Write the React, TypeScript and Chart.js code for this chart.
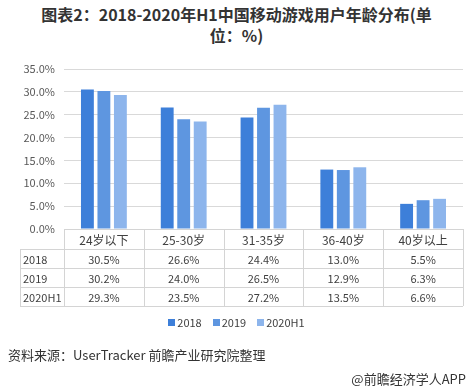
import React, { useEffect, useRef } from "react";
import { Chart, registerables } from "chart.js";

Chart.register(...registerables);

const categories = ["24岁以下", "25-30岁", "31-35岁", "36-40岁", "40岁以上"];
const seriesNames = ["2018", "2019", "2020H1"];
const values2018 = [30.5, 26.6, 24.4, 13.0, 5.5];
const values2019 = [30.2, 24.0, 26.5, 12.9, 6.3];
const values2020H1 = [29.3, 23.5, 27.2, 13.5, 6.6];
const seriesValues = [values2018, values2019, values2020H1];
const colors = ["#3d7fd9", "#5e96e0", "#8db5ec"];
const yMax = 35;
const yStep = 5;

const FONT = "'Noto Sans CJK SC', 'Noto Sans', sans-serif";

const tablePlugin = {
  id: "dataTable",
  afterDraw(chart: any) {
    const ctx = chart.ctx;
    const x = chart.scales.x;
    const area = chart.chartArea;
    const top = area.bottom;
    const rowH = [20, 19, 19, 19];
    const labelLeft = 20;
    const n = categories.length;
    const catW = (area.right - area.left) / n;
    const ys: number[] = [top];
    rowH.forEach((h) => ys.push(ys[ys.length - 1] + h));
    ctx.save();
    ctx.strokeStyle = "#d4d4d4";
    ctx.lineWidth = 1;
    ctx.beginPath();
    ctx.moveTo(area.left, Math.round(ys[0]) + 0.5);
    ctx.lineTo(area.right, Math.round(ys[0]) + 0.5);
    for (let i = 1; i < ys.length; i++) {
      ctx.moveTo(labelLeft, Math.round(ys[i]) + 0.5);
      ctx.lineTo(area.right, Math.round(ys[i]) + 0.5);
    }
    ctx.moveTo(labelLeft + 0.5, ys[1]);
    ctx.lineTo(labelLeft + 0.5, ys[ys.length - 1]);
    for (let i = 0; i <= n; i++) {
      const px = Math.round(area.left + i * catW) + 0.5;
      ctx.moveTo(px, ys[0]);
      ctx.lineTo(px, ys[ys.length - 1]);
    }
    ctx.stroke();

    ctx.fillStyle = "#404040";
    ctx.textBaseline = "middle";
    ctx.font = `12px ${FONT}`;
    ctx.textAlign = "center";
    categories.forEach((c, i) => {
      const cx = x.getPixelForValue(i);
      ctx.fillText(c, cx, (ys[0] + ys[1]) / 2 + 1);
    });
    ctx.font = `11px ${FONT}`;
    seriesNames.forEach((name, r) => {
      const cy = (ys[r + 1] + ys[r + 2]) / 2 + 1;
      ctx.textAlign = "left";
      ctx.fillText(name, labelLeft + 3, cy);
      ctx.textAlign = "center";
      seriesValues[r].forEach((v, i) => {
        const cx = x.getPixelForValue(i);
        ctx.fillText(v.toFixed(1) + "%", cx, cy);
      });
    });
    ctx.restore();
  },
};

export default function App() {
  const canvasRef = useRef<HTMLCanvasElement | null>(null);

  useEffect(() => {
    document.body.style.margin = "0";
    const canvas = canvasRef.current;
    if (!canvas) return;
    const chart = new Chart(canvas, {
      type: "bar",
      data: {
        labels: categories,
        datasets: seriesNames.map((name, i) => ({
          label: name,
          data: seriesValues[i],
          backgroundColor: colors[i],
          borderWidth: 0,
          categoryPercentage: 0.62,
          barPercentage: 0.78,
        })),
      },
      options: {
        animation: false,
        responsive: false,
        maintainAspectRatio: false,
        layout: { padding: { left: 8, right: 10, top: 69, bottom: 160 } },
        plugins: {
          legend: { display: false },
          title: { display: false },
          tooltip: { enabled: false },
        },
        scales: {
          x: { display: false },
          y: {
            min: 0,
            max: yMax,
            afterFit: (scale: any) => {
              scale.width = 56;
            },
            ticks: {
              stepSize: yStep,
              padding: 9,
              color: "#595959",
              font: { size: 11, family: FONT },
              callback: (v: any) => Number(v).toFixed(1) + "%",
            },
            grid: { color: "#d9d9d9", drawTicks: false },
            border: { display: false },
          },
        },
      },
      plugins: [tablePlugin],
    });
    return () => chart.destroy();
  }, []);

  return (
    <div style={{ position: "relative", width: 473, height: 389, background: "#fff", fontFamily: FONT }}>
      <div
        style={{
          position: "absolute",
          top: 4,
          left: 0,
          width: 473,
          textAlign: "center",
          fontWeight: "bold",
          fontSize: 16,
          lineHeight: "21px",
          color: "#333333",
        }}
      >
        <div>图表2：2018-2020年H1中国移动游戏用户年龄分布(单</div>
        <div>位：%)</div>
      </div>
      <canvas ref={canvasRef} width={473} height={389} style={{ position: "absolute", left: 0, top: 0 }} />
      <div
        style={{
          position: "absolute",
          top: 314,
          left: 0,
          width: 473,
          display: "flex",
          justifyContent: "center",
          gap: 11,
          fontSize: 11,
          color: "#404040",
          lineHeight: "16px",
        }}
      >
        {seriesNames.map((n, i) => (
          <span key={n} style={{ display: "flex", alignItems: "center" }}>
            <span style={{ width: 7, height: 7, background: colors[i], marginRight: 2, display: "inline-block" }} />
            {n}
          </span>
        ))}
      </div>
      <div style={{ position: "absolute", top: 345, left: 8, fontSize: 13, color: "#333333", lineHeight: "19px" }}>
        资料来源：UserTracker 前瞻产业研究院整理
      </div>
      <div style={{ position: "absolute", top: 369, right: 7, fontSize: 13, color: "#333333", lineHeight: "19px" }}>
        @前瞻经济学人APP
      </div>
    </div>
  );
}
